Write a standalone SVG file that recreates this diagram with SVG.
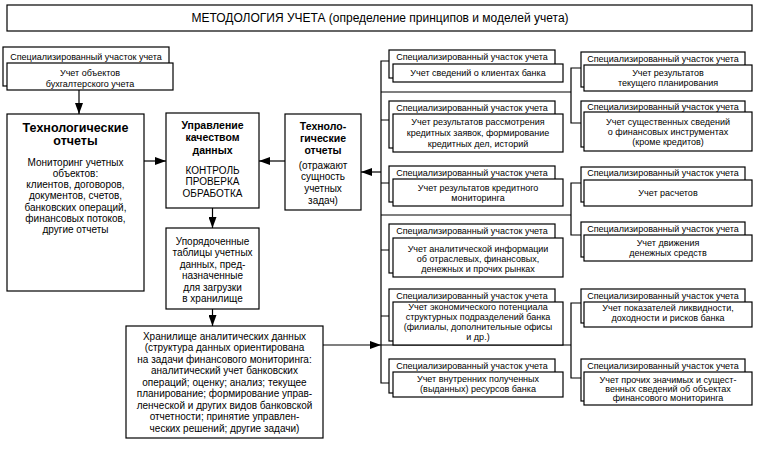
<svg xmlns="http://www.w3.org/2000/svg" width="759" height="455" viewBox="0 0 759 455">
<style>
.box{fill:#fff;stroke:#000;stroke-width:1.2}
.ln{fill:none;stroke:#000;stroke-width:1.2}
text{font-family:"Liberation Sans",Arial,sans-serif;fill:#000;text-anchor:middle}
.t12{font-size:12px}
.t10{font-size:10px}
.t9{font-size:9px}
.b12{font-size:12.5px;font-weight:bold}
.b10{font-size:10.5px;font-weight:bold}
</style>
<defs>
<marker id="ah" markerUnits="userSpaceOnUse" markerWidth="11" markerHeight="8" refX="11" refY="4" orient="auto">
<path d="M0,0 L11,4 L0,8 z" fill="#000"/>
</marker>
</defs>
<rect width="759" height="455" fill="#fff"/>

<g id="title">
<rect class="box" x="7" y="5" width="745" height="26"/>
<text class="t12" x="380" y="22">МЕТОДОЛОГИЯ УЧЕТА (определение принципов и моделей учета)</text>
</g>

<g id="connectors">
<line class="ln" x1="79" y1="90" x2="79" y2="114" marker-end="url(#ah)"/>
<line class="ln" x1="144" y1="161" x2="166" y2="161" marker-end="url(#ah)"/>
<line class="ln" x1="285" y1="161" x2="259" y2="161" marker-end="url(#ah)"/>
<line class="ln" x1="212.5" y1="208" x2="212.5" y2="228" marker-end="url(#ah)"/>
<line class="ln" x1="212.5" y1="309" x2="212.5" y2="326" marker-end="url(#ah)"/>
<line class="ln" x1="381" y1="172" x2="361" y2="172" marker-end="url(#ah)"/>
<line class="ln" x1="323" y1="345" x2="381" y2="345" marker-end="url(#ah)"/>
<path class="ln" d="M389,61 H381 V383 H389 M381,120 H389 M381,183 H389 M381,250 H389 M381,316 H389"/>
<path class="ln" d="M381,92 H571 M381,215 H571 M381,345 H571"/>
<path class="ln" d="M581,68 H571 V123 H581 M581,183 H571 V235 H581 M581,303 H571 V378 H581"/>
</g>

<g id="spec-tl">
<rect class="box" x="3" y="47" width="166" height="39"/>
<text class="t9" x="86" y="60">Специализированный участок учета</text>
<rect class="box" x="7" y="63" width="166" height="27"/>
<text class="t9" x="90" y="76">Учет объектов</text>
<text class="t9" x="90" y="87">бухгалтерского учета</text>
</g>

<g id="tech-left">
<rect class="box" x="7" y="114" width="137" height="177"/>
<text class="b12" x="75.5" y="131.5">Технологические</text>
<text class="b12" x="75.5" y="144.5">отчеты</text>
<text class="t10" x="75.5" y="165.5">Мониторинг учетных</text>
<text class="t10" x="75.5" y="176.8">объектов:</text>
<text class="t10" x="75.5" y="188.1">клиентов, договоров,</text>
<text class="t10" x="75.5" y="199.4">документов, счетов,</text>
<text class="t10" x="75.5" y="210.7">банковских операций,</text>
<text class="t10" x="75.5" y="222">финансовых потоков,</text>
<text class="t10" x="75.5" y="233.3">другие отчеты</text>
</g>

<g id="quality">
<rect class="box" x="166" y="113" width="93" height="95"/>
<text class="b10" x="212.5" y="128.5">Управление</text>
<text class="b10" x="212.5" y="141">качеством</text>
<text class="b10" x="212.5" y="153.5">данных</text>
<text class="t10" x="212.5" y="173.5">КОНТРОЛЬ</text>
<text class="t10" x="212.5" y="185">ПРОВЕРКА</text>
<text class="t10" x="212.5" y="196.5">ОБРАБОТКА</text>
</g>

<g id="tech-right">
<rect class="box" x="285" y="114" width="76" height="96"/>
<text class="b10" x="323" y="129.5">Техноло-</text>
<text class="b10" x="323" y="141.5">гические</text>
<text class="b10" x="323" y="154">отчеты</text>
<text class="t10" x="323" y="168.5">(отражают</text>
<text class="t10" x="323" y="180.3">сущность</text>
<text class="t10" x="323" y="191.8">учетных</text>
<text class="t10" x="323" y="203.5">задач)</text>
</g>

<g id="tables">
<rect class="box" x="166" y="228" width="93" height="81"/>
<text class="t10" x="212.5" y="244.5">Упорядоченные</text>
<text class="t10" x="212.5" y="256">таблицы учетных</text>
<text class="t10" x="212.5" y="267.5">данных, пред-</text>
<text class="t10" x="212.5" y="279">назначенные</text>
<text class="t10" x="212.5" y="290.5">для загрузки</text>
<text class="t10" x="212.5" y="302">в хранилище</text>
</g>

<g id="storage">
<rect class="box" x="126" y="326" width="197" height="112"/>
<text class="t10" x="224.5" y="339.5">Хранилище аналитических данных</text>
<text class="t10" x="224.5" y="351">(структура данных ориентирована</text>
<text class="t10" x="224.5" y="362.5">на задачи финансового мониторинга:</text>
<text class="t10" x="224.5" y="374">аналитический учет банковских</text>
<text class="t10" x="224.5" y="385.5">операций; оценку; анализ; текущее</text>
<text class="t10" x="224.5" y="397">планирование; формирование управ-</text>
<text class="t10" x="224.5" y="408.5">ленческой и других видов банковской</text>
<text class="t10" x="224.5" y="420">отчетности; принятие управлен-</text>
<text class="t10" x="224.5" y="431.5">ческих решений; другие задачи)</text>
</g>

<g id="spec-l1">
<rect class="box" x="389" y="50" width="166" height="28"/>
<text class="t9" x="472" y="60.2">Специализированный участок учета</text>
<rect class="box" x="393" y="64" width="170" height="18"/>
<text class="t9" x="478" y="76.2">Учет сведений о клиентах банка</text>
</g>

<g id="spec-l2">
<rect class="box" x="389" y="101" width="166" height="47"/>
<text class="t9" x="472" y="111.2">Специализированный участок учета</text>
<rect class="box" x="393" y="114" width="170" height="38"/>
<text class="t9" x="478" y="125.2">Учет результатов рассмотрения</text>
<text class="t9" x="478" y="136.2">кредитных заявок, формирование</text>
<text class="t9" x="478" y="147.2">кредитных дел, историй</text>
</g>

<g id="spec-l3">
<rect class="box" x="389" y="166" width="166" height="36"/>
<text class="t9" x="472" y="176.2">Специализированный участок учета</text>
<rect class="box" x="393" y="179" width="170" height="27"/>
<text class="t9" x="478" y="191.2">Учет результатов кредитного</text>
<text class="t9" x="478" y="201.2">мониторинга</text>
</g>

<g id="spec-l4">
<rect class="box" x="389" y="224" width="166" height="49"/>
<text class="t9" x="472" y="234.2">Специализированный участок учета</text>
<rect class="box" x="393" y="238" width="170" height="39"/>
<text class="t9" x="478" y="252.2">Учет аналитической информации</text>
<text class="t9" x="478" y="262.2">об отраслевых, финансовых,</text>
<text class="t9" x="478" y="272.2">денежных и прочих рынках</text>
</g>

<g id="spec-l5">
<rect class="box" x="389" y="289" width="166" height="52"/>
<text class="t9" x="472" y="299.2">Специализированный участок учета</text>
<rect class="box" x="393" y="302" width="170" height="43"/>
<text class="t9" x="478" y="310.2">Учет экономического потенциала</text>
<text class="t9" x="478" y="320.2">структурных подразделений банка</text>
<text class="t9" x="478" y="330.2">(филиалы, дополнительные офисы</text>
<text class="t9" x="478" y="340.2">и др.)</text>
</g>

<g id="spec-l6">
<rect class="box" x="389" y="359" width="166" height="34"/>
<text class="t9" x="472" y="369.2">Специализированный участок учета</text>
<rect class="box" x="393" y="372" width="170" height="25"/>
<text class="t9" x="478" y="382.2">Учет внутренних полученных</text>
<text class="t9" x="478" y="392.2">(выданных) ресурсов банка</text>
</g>

<g id="spec-r1">
<rect class="box" x="581" y="52" width="164" height="35"/>
<text class="t9" x="663" y="62.2">Специализированный участок учета</text>
<rect class="box" x="584" y="65" width="168" height="26"/>
<text class="t9" x="668" y="76.2">Учет результатов</text>
<text class="t9" x="668" y="86.2">текущего планирования</text>
</g>

<g id="spec-r2">
<rect class="box" x="581" y="101" width="164" height="46"/>
<text class="t9" x="663" y="110.2">Специализированный участок учета</text>
<rect class="box" x="584" y="112" width="168" height="39"/>
<text class="t9" x="668" y="125.2">Учет существенных сведений</text>
<text class="t9" x="668" y="135.2">о финансовых инструментах</text>
<text class="t9" x="668" y="145.2">(кроме кредитов)</text>
</g>

<g id="spec-r3">
<rect class="box" x="581" y="167" width="164" height="35"/>
<text class="t9" x="663" y="176.2">Специализированный участок учета</text>
<rect class="box" x="584" y="180" width="168" height="26"/>
<text class="t9" x="668" y="196.2">Учет расчетов</text>
</g>

<g id="spec-r4">
<rect class="box" x="581" y="222" width="164" height="35"/>
<text class="t9" x="663" y="232.2">Специализированный участок учета</text>
<rect class="box" x="584" y="235" width="168" height="26"/>
<text class="t9" x="668" y="246.2">Учет движения</text>
<text class="t9" x="668" y="256.2">денежных средств</text>
</g>

<g id="spec-r5">
<rect class="box" x="581" y="289" width="164" height="34"/>
<text class="t9" x="663" y="299.2">Специализированный участок учета</text>
<rect class="box" x="584" y="302" width="168" height="25"/>
<text class="t9" x="668" y="311.2">Учет показателей ликвидности,</text>
<text class="t9" x="668" y="321.2">доходности и рисков банка</text>
</g>

<g id="spec-r6">
<rect class="box" x="581" y="359" width="164" height="42"/>
<text class="t9" x="663" y="369.2">Специализированный участок учета</text>
<rect class="box" x="584" y="372" width="168" height="33"/>
<text class="t9" x="668" y="383.2">Учет прочих значимых и сущест-</text>
<text class="t9" x="668" y="392.2">венных сведений об объектах</text>
<text class="t9" x="668" y="401.2">финансового мониторинга</text>
</g>
</svg>
